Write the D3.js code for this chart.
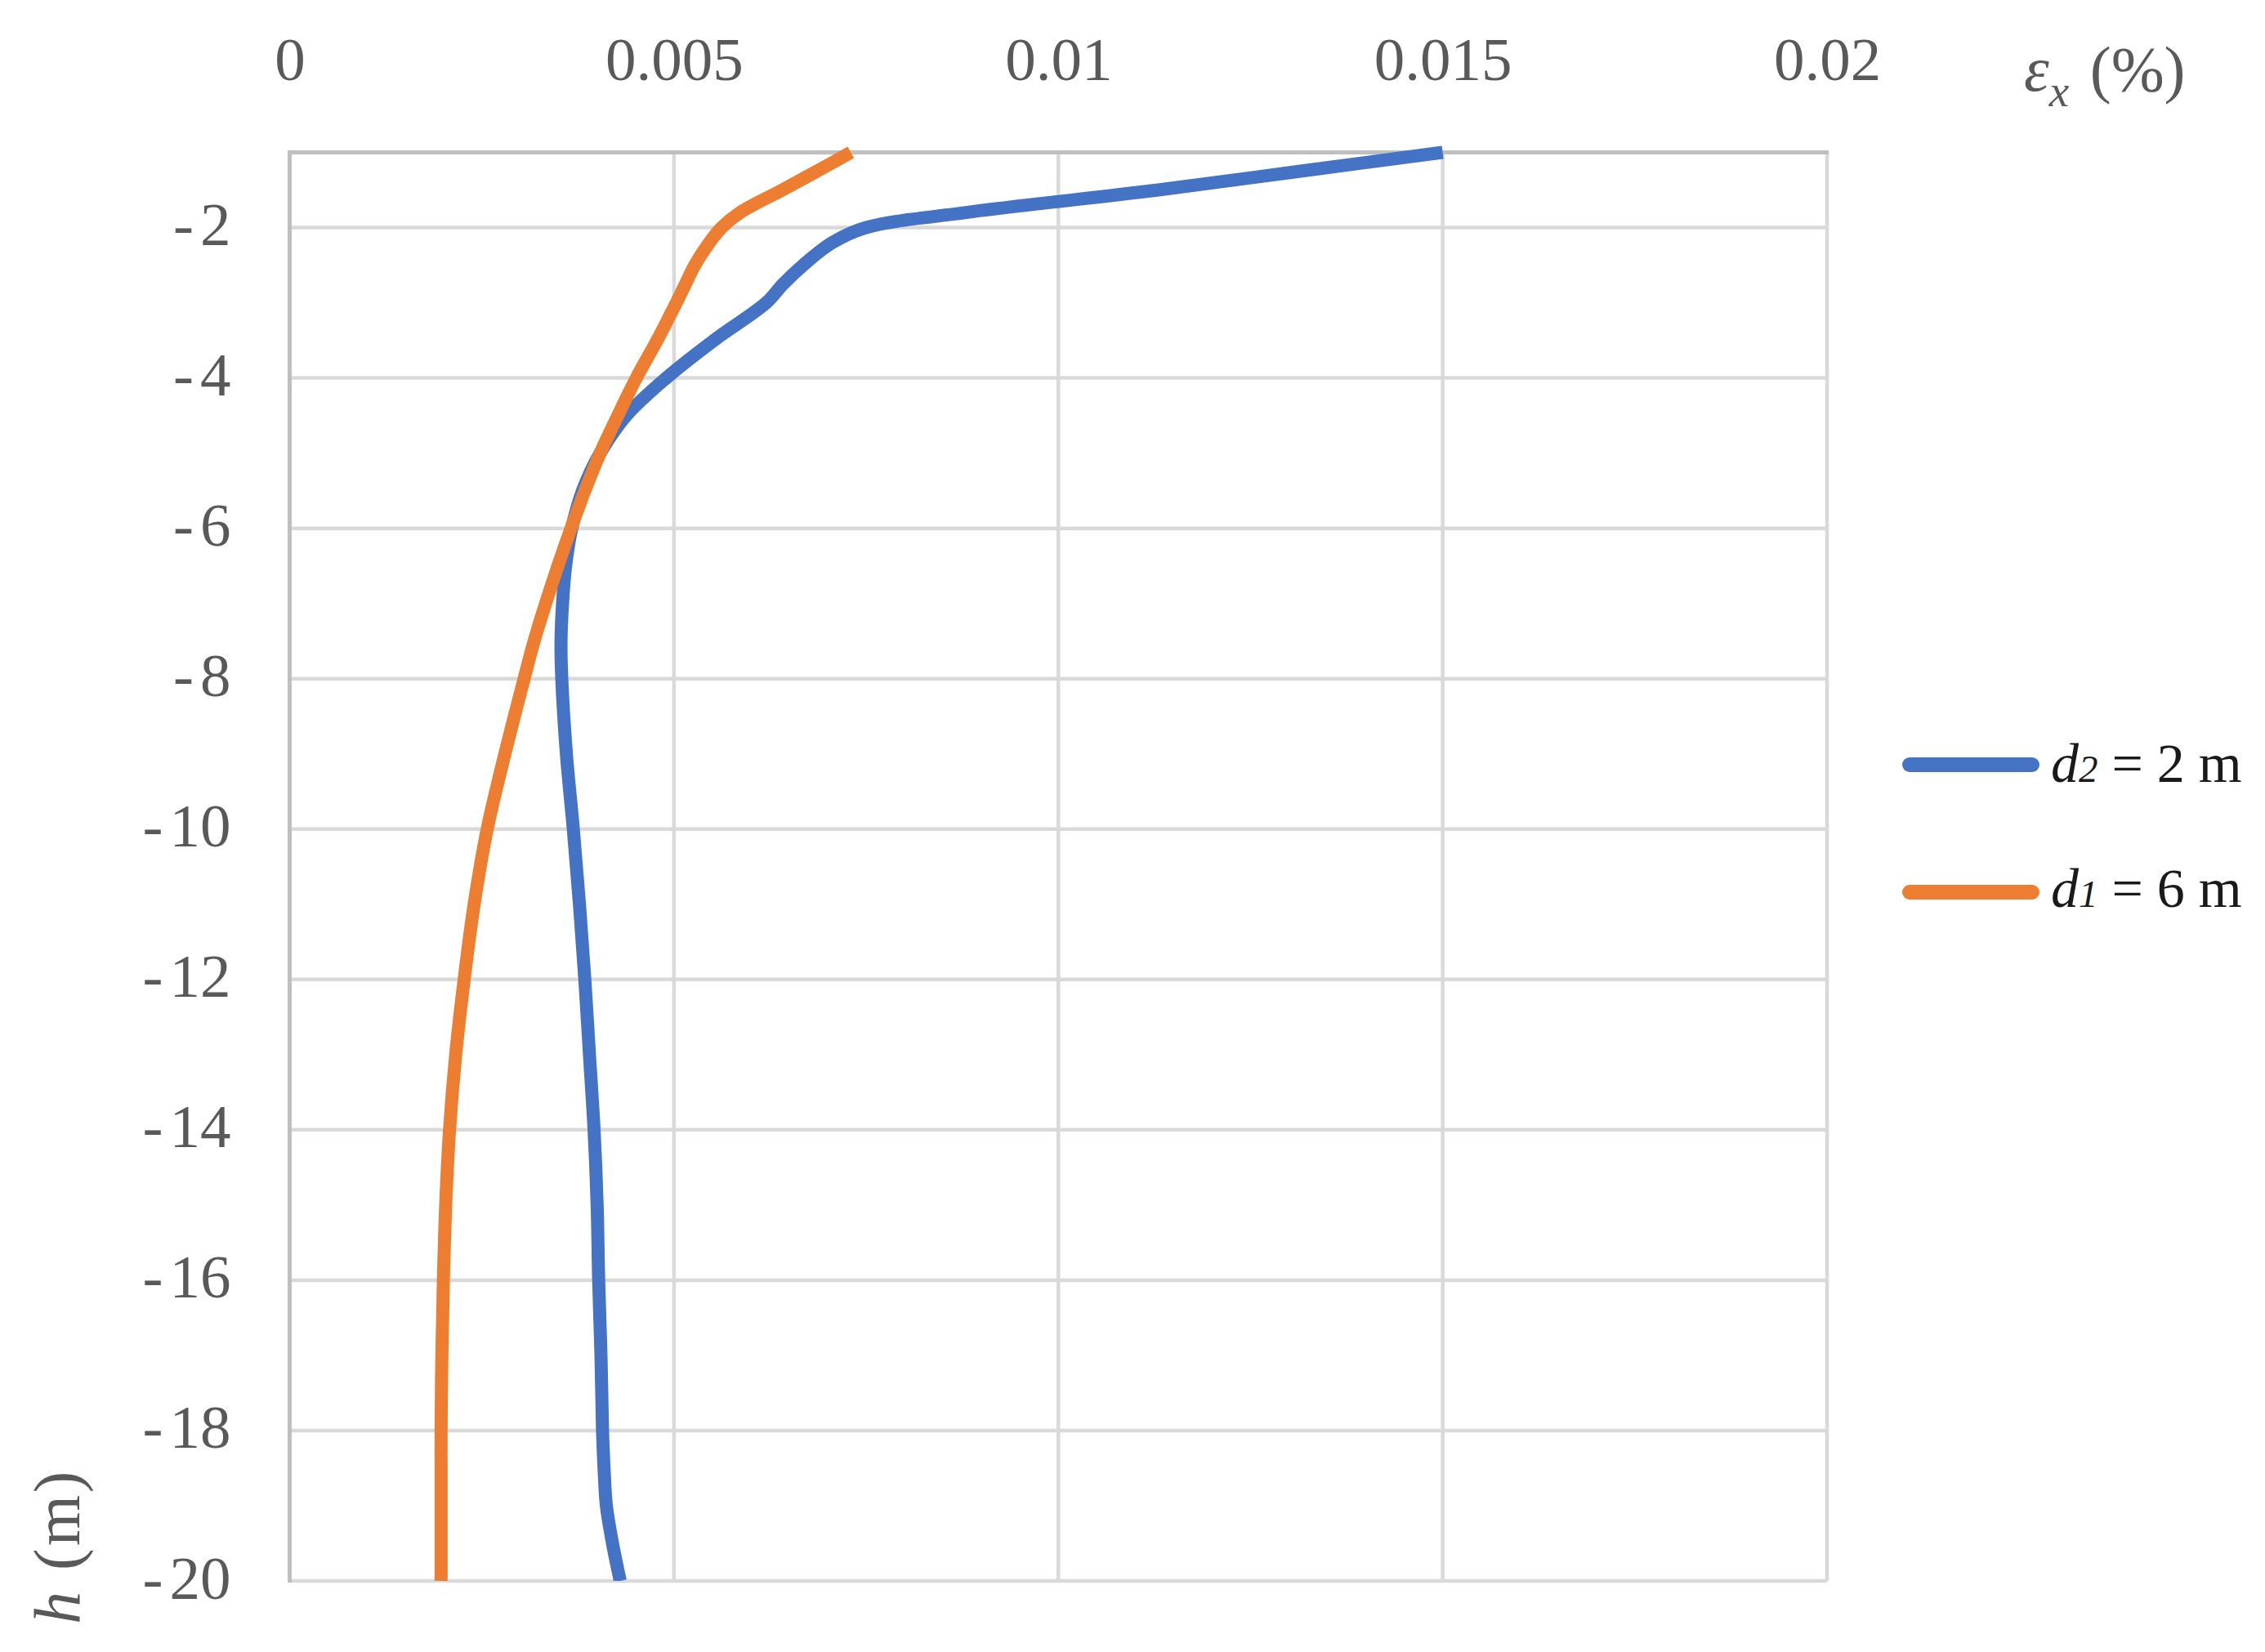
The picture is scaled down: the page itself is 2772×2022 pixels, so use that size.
<!DOCTYPE html>
<html>
<head>
<meta charset="utf-8">
<script src="https://cdn.jsdelivr.net/npm/d3@7"></script>
<style>
  html, body { margin: 0; padding: 0; background: #ffffff; }
  svg { display: block; }
</style>
</head>
<body>
<svg id="chart" width="2772" height="2022"></svg>
<script>
// ---------------- data ----------------
const depths = [-1, -1.25, -1.5, -1.8, -2, -2.2, -2.5, -2.75, -3, -3.5, -4, -4.5, -5, -5.5, -6, -6.5, -7, -7.5,
                -8, -9, -10, -11, -12, -13, -14, -15, -16, -17, -18, -18.5, -19, -19.5, -20];
const strainD2 = [0.0150, 0.01315, 0.0113, 0.0088, 0.0075, 0.00706, 0.00668, 0.00642, 0.0062, 0.00552, 0.0049,
                  0.00438, 0.00404, 0.00381, 0.00367, 0.00359, 0.00355, 0.00353, 0.00354, 0.0036, 0.00369,
                  0.00377, 0.00384, 0.0039, 0.00396, 0.0040, 0.00402, 0.00405, 0.00407, 0.00409, 0.00412,
                  0.0042, 0.0043];
const strainD1 = [0.0073, 0.00686, 0.00641, 0.00586, 0.00562, 0.00546, 0.00527, 0.00515, 0.00503, 0.00478, 0.00451,
                  0.00427, 0.00404, 0.00384, 0.00366, 0.00349, 0.00333, 0.00318, 0.00305, 0.0028, 0.00257,
                  0.0024, 0.00227, 0.00216, 0.00208, 0.00203, 0.0020, 0.00198, 0.00197, 0.00197, 0.00197,
                  0.00197, 0.00197];
const seriesNames = ["d2", "d1"];
const seriesLabels = [["d", "2", " = 2 m"], ["d", "1", " = 6 m"]];
const seriesColors = ["#4472C4", "#ED7D31"];
const xTicks = [0, 0.005, 0.01, 0.015, 0.02];
const xTickLabels = ["0", "0.005", "0.01", "0.015", "0.02"];
const yTicks = [-2, -4, -6, -8, -10, -12, -14, -16, -18, -20];
const xDomain = [0, 0.02];
const yDomain = [-20, -1];

// ---------------- layout ----------------
const svg = d3.select("#chart");
const pLeft = 354.5, pRight = 2236, pTop = 186.5, pBottom = 1935;
const FONT = "'Liberation Serif', 'Times New Roman', serif";
const gray = "#595959";

const x = d3.scaleLinear().domain(xDomain).range([pLeft, pRight]);
const y = d3.scaleLinear().domain(yDomain).range([pBottom, pTop]);

svg.append("rect").attr("width", 2772).attr("height", 2022).attr("fill", "#ffffff");

// gridlines
const grid = svg.append("g");
grid.selectAll("line.v").data(xTicks.filter(d => d > 0)).join("line")
  .attr("x1", d => x(d)).attr("x2", d => x(d)).attr("y1", pTop).attr("y2", pBottom)
  .attr("stroke", "#d9d9d9").attr("stroke-width", 4.5);
grid.selectAll("line.h").data(yTicks).join("line")
  .attr("x1", pLeft).attr("x2", pRight).attr("y1", d => y(d)).attr("y2", d => y(d))
  .attr("stroke", "#d9d9d9").attr("stroke-width", 4.5);

// axis lines (top & left)
svg.append("line").attr("x1", pLeft - 2.5).attr("x2", pRight + 2).attr("y1", pTop).attr("y2", pTop)
  .attr("stroke", "#bfbfbf").attr("stroke-width", 5);
svg.append("line").attr("x1", pLeft).attr("x2", pLeft).attr("y1", pTop - 2.5).attr("y2", pBottom + 2)
  .attr("stroke", "#bfbfbf").attr("stroke-width", 5);

// x axis on top
const xAxis = d3.axisTop(x).tickValues(xTicks).tickSize(0).tickPadding(89)
  .tickFormat((d, i) => xTickLabels[i]);
const gx = svg.append("g").attr("transform", `translate(0,${pTop})`).call(xAxis);
gx.select(".domain").remove();
gx.selectAll("text").attr("font-family", FONT).attr("font-size", 75).attr("fill", gray);

// y axis on left
const yAxis = d3.axisLeft(y).tickValues(yTicks).tickSize(0).tickPadding(72)
  .tickFormat(d => String(Math.abs(d)));
const gy = svg.append("g").attr("transform", `translate(${pLeft},0)`).call(yAxis);
gy.select(".domain").remove();
gy.selectAll("text").each(function(d) {
  const t = d3.select(this);
  const digits = String(Math.abs(d));
  t.text(null).attr("dy", "0.28em").attr("font-family", FONT).attr("font-size", 75).attr("fill", gray);
  t.append("tspan").text("-");
  t.append("tspan").attr("dx", 8).text(digits);
});

// clip
svg.append("clipPath").attr("id", "plotclip").append("rect")
  .attr("x", pLeft).attr("y", pTop - 12).attr("width", pRight - pLeft + 20).attr("height", pBottom - pTop + 12);

// lines
const series = [strainD2, strainD1];
const line = d3.line()
  .x(d => x(d[0])).y(d => y(d[1]))
  .curve(d3.curveCatmullRom.alpha(0.5));
svg.append("g").attr("clip-path", "url(#plotclip)")
  .selectAll("path").data(series).join("path")
  .attr("d", vals => line(vals.map((v, i) => [v, depths[i]])))
  .attr("fill", "none")
  .attr("stroke", (d, i) => seriesColors[i])
  .attr("stroke-width", 16)
  .attr("stroke-linejoin", "round")
  .attr("stroke-linecap", "butt");

// axis titles
const tx = svg.append("text").attr("x", 2477).attr("y", 111)
  .attr("font-family", FONT).attr("font-size", 78).attr("fill", gray);
tx.append("tspan").attr("font-style", "italic").text("ε");
tx.append("tspan").attr("font-style", "italic").attr("font-size", 55).attr("dy", 19).text("x");
tx.append("tspan").attr("dy", -19).attr("dx", 6).text(" (%)");

const ty = svg.append("text").attr("transform", "translate(97,1988) rotate(-90)")
  .attr("font-family", FONT).attr("font-size", 80).attr("fill", gray).attr("letter-spacing", 3);
ty.append("tspan").attr("font-style", "italic").text("h");
ty.append("tspan").text(" (m)");

// legend
const legY = [936, 1092];
const legTextY = [957, 1110];
const lg = svg.append("g");
seriesNames.forEach((name, i) => {
  lg.append("line").attr("x1", 2337).attr("x2", 2487).attr("y1", legY[i]).attr("y2", legY[i])
    .attr("stroke", seriesColors[i]).attr("stroke-width", 18).attr("stroke-linecap", "round");
  const t = lg.append("text").attr("x", 2510).attr("y", legTextY[i])
    .attr("font-family", FONT).attr("font-size", 68).attr("fill", "#1a1a1a");
  t.append("tspan").attr("font-style", "italic").text(seriesLabels[i][0]);
  t.append("tspan").attr("font-style", "italic").attr("font-size", 47).text(seriesLabels[i][1]);
  t.append("tspan").text(seriesLabels[i][2]);
});
</script>
</body>
</html>
